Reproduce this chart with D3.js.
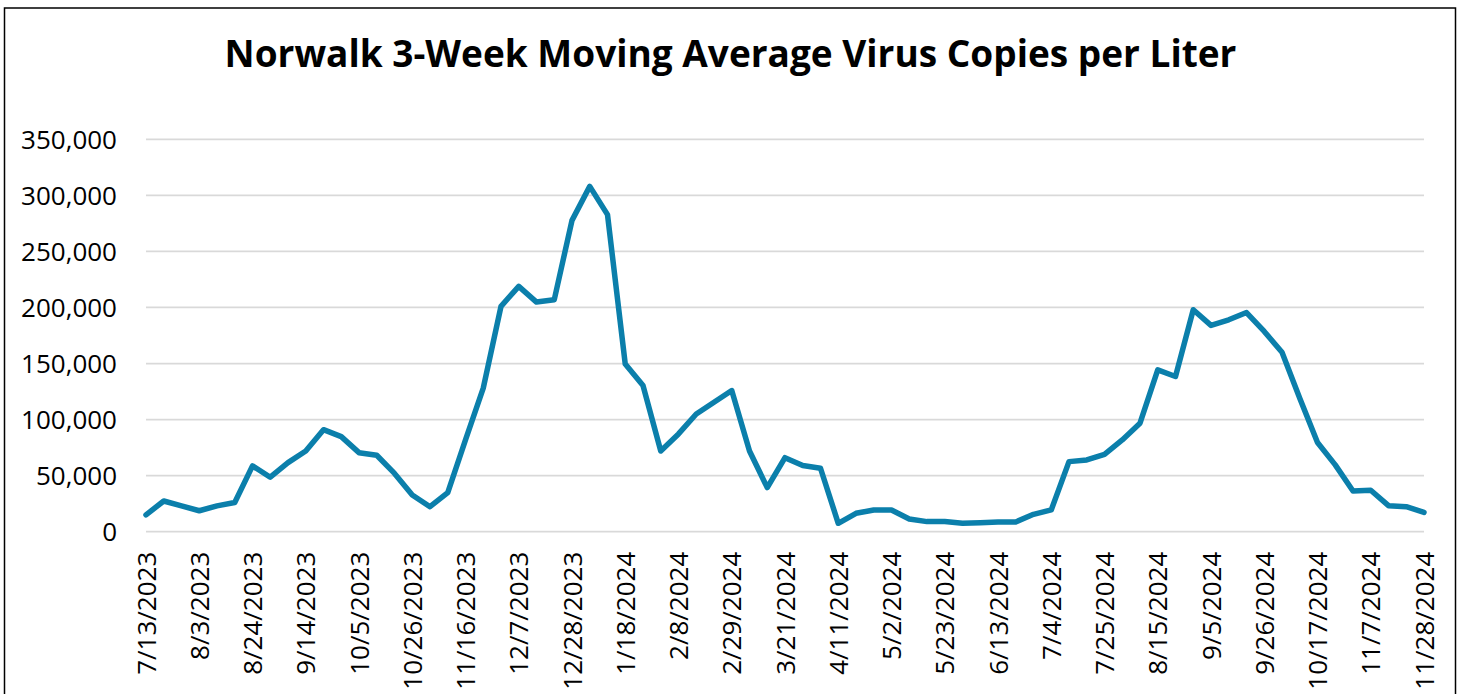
<!DOCTYPE html>
<head>
<meta charset="utf-8">
<title>Norwalk 3-Week Moving Average</title>
<style>
body { margin: 0; background: #fff; }
text { font-family: "Open Sans", sans-serif; fill: #000; }
.grid line { stroke: #d9d9d9; stroke-width: 1.8px; }
.axis path, .axis line { display: none; }
path.line { fill: none; stroke: #0b7fab; stroke-width: 5.5px; stroke-linejoin: round; stroke-linecap: round; }
</style>
</head>
<body>
<script src="https://cdn.jsdelivr.net/npm/d3@7"></script>
<script>

// weekly sample dates
var dates = [
  "7/13/2023","7/20/2023","7/27/2023","8/3/2023","8/10/2023","8/17/2023","8/24/2023","8/31/2023",
  "9/7/2023","9/14/2023","9/21/2023","9/28/2023","10/5/2023","10/12/2023","10/19/2023","10/26/2023",
  "11/2/2023","11/9/2023","11/16/2023","11/23/2023","11/30/2023","12/7/2023","12/14/2023","12/21/2023",
  "12/28/2023","1/4/2024","1/11/2024","1/18/2024","1/25/2024","2/1/2024","2/8/2024","2/15/2024",
  "2/22/2024","2/29/2024","3/7/2024","3/14/2024","3/21/2024","3/28/2024","4/4/2024","4/11/2024",
  "4/18/2024","4/25/2024","5/2/2024","5/9/2024","5/16/2024","5/23/2024","5/30/2024","6/6/2024",
  "6/13/2024","6/20/2024","6/27/2024","7/4/2024","7/11/2024","7/18/2024","7/25/2024","8/1/2024",
  "8/8/2024","8/15/2024","8/22/2024","8/29/2024","9/5/2024","9/12/2024","9/19/2024","9/26/2024",
  "10/3/2024","10/10/2024","10/17/2024","10/24/2024","10/31/2024","11/7/2024","11/14/2024","11/21/2024",
  "11/28/2024"
];

// virus copies per liter (3-week moving average)
var copies = [
  15000, 27400, 23000, 18700, 23000, 26000, 58700, 48600, 61600, 72000,
  91000, 84800, 70500, 68200, 52000, 32800, 22300, 34800, 82000, 128000,
  201000, 218800, 204800, 206900, 277700, 308000, 282800, 149500, 130400, 72000,
  87200, 105000, 115500, 125900, 72000, 39300, 66000, 59000, 56600, 7500,
  16400, 19400, 19400, 11300, 9000, 9000, 7500, 8000, 8700, 8700,
  15500, 19400, 62500, 64000, 69000, 81900, 96800, 144400, 138400, 198000,
  184000, 189000, 195500, 178600, 160000, 119000, 79500, 59600, 36300, 37000,
  23200, 22300, 17300
];

var yTicks = [0, 50000, 100000, 150000, 200000, 250000, 300000, 350000];
var xTickLabels = dates.filter(function(d, i) { return i % 3 === 0; });

var width = 1461,
    height = 694;

var svg = d3.select("body").append("svg")
    .attr("width", width)
    .attr("height", height);

// chart border
svg.append("rect")
    .attr("x", 4.5)
    .attr("y", 8)
    .attr("width", 1451)
    .attr("height", 700)
    .attr("fill", "none")
    .attr("stroke", "#000")
    .attr("stroke-width", 1.5);

svg.append("text")
    .attr("x", 730.5)
    .attr("y", 67)
    .attr("text-anchor", "middle")
    .style("font-size", "37px")
    .style("font-weight", "bold")
    .text("Norwalk 3-Week Moving Average Virus Copies per Liter");

var x = d3.scalePoint()
    .domain(dates)
    .range([146, 1424]);

var y = d3.scaleLinear()
    .domain([0, 350000])
    .range([531.7, 139.3]);

// gridlines
svg.append("g")
    .attr("class", "grid")
    .selectAll("line")
    .data(yTicks)
    .enter().append("line")
    .attr("x1", 146)
    .attr("x2", 1424)
    .attr("y1", function(d) { return y(d); })
    .attr("y2", function(d) { return y(d); });

// y axis
svg.append("g")
    .attr("class", "axis")
    .attr("transform", "translate(146,0)")
    .call(d3.axisLeft(y).tickValues(yTicks).tickSize(0).tickPadding(29).tickFormat(d3.format(",")))
    .selectAll("text")
    .style("font-size", "26px")
    .attr("dy", "0.35em");

// x axis
var xAxis = svg.append("g")
    .attr("class", "axis")
    .attr("transform", "translate(0,531.7)")
    .call(d3.axisBottom(x).tickValues(xTickLabels).tickSize(0));

xAxis.selectAll("text")
    .style("font-size", "26px")
    .attr("text-anchor", "end")
    .attr("transform", "rotate(-90)")
    .attr("x", -20)
    .attr("y", 0)
    .attr("dy", "0.35em");

var line = d3.line()
    .x(function(d, i) { return x(dates[i]); })
    .y(function(d) { return y(d); });

svg.append("path")
    .datum(copies)
    .attr("class", "line")
    .attr("d", line);

</script>
</body>
</html>
